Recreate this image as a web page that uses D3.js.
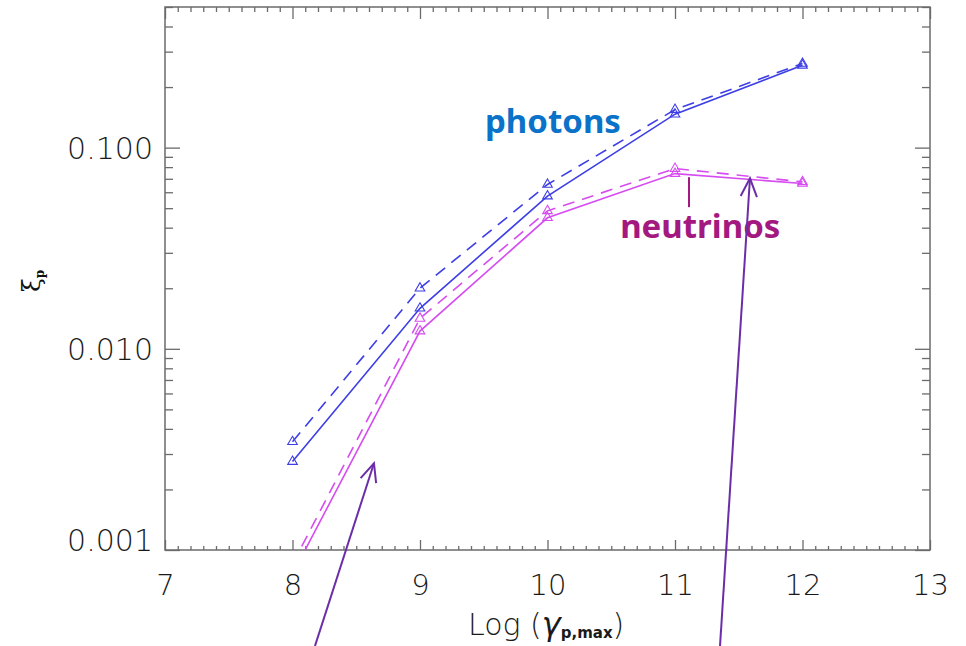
<!DOCTYPE html>
<html>
<head>
<meta charset="utf-8">
<script src="https://cdn.jsdelivr.net/npm/d3@7"></script>
<style>
  html, body { margin: 0; padding: 0; background: #fff; }
  svg { display: block; }
  .tick text { font-family: "DejaVu Sans", sans-serif; font-weight: 300; fill: #1a1a1a; }
</style>
</head>
<body>
<svg id="chart" width="966" height="646"></svg>
<script>
// Maximum proton Lorentz factor (log10) at which the runs were made
const logGamma = [8, 9, 10, 11, 12];

// Efficiency ξp for the two secondary channels (solid and dashed runs)
const photonsSolid    = [0.00275, 0.0159, 0.0574, 0.1466, 0.2564];
const photonsDashed   = [0.00345, 0.0200, 0.0656, 0.1545, 0.2618];
const neutrinosSolid  = [0.00076, 0.01225, 0.0448, 0.0743, 0.0663];
const neutrinosDashed = [0.00085, 0.01416, 0.0485, 0.0787, 0.0676];

// Axis ticks
const xMajorTicks = [7, 8, 9, 10, 11, 12, 13];
const yMajorTicks = [0.001, 0.01, 0.1];
const yTickLabels = ["0.001", "0.010", "0.100"];

const W = 966, H = 646;
const plot = { left: 165, right: 930, top: 7, bottom: 550 };

const svg = d3.select("#chart");

const x = d3.scaleLinear().domain([7, 13]).range([plot.left, plot.right]);
const y = d3.scaleLog().domain([0.001, 0.5]).range([plot.bottom, plot.top]);

// minor tick positions
const xMinor = d3.range(70, 131).map(v => v / 10).filter(v => !xMajorTicks.includes(v));
const yMinor = [];
[0.001, 0.01, 0.1].forEach(d => { for (let k = 2; k <= 9; k++) { const v = d * k; if (v <= 0.5 + 1e-9) yMinor.push(v); } });

const axisColor = "#6b6b6b";

function styleAxis(g) {
  g.select(".domain").remove();
  g.selectAll(".tick line").attr("stroke", axisColor).attr("stroke-width", 1.3);
}

// bottom axis: major with labels, minor without
svg.append("g").attr("transform", `translate(0,${plot.bottom})`)
  .call(d3.axisBottom(x).tickValues(xMajorTicks).tickSize(-10).tickFormat(d3.format("d")))
  .call(styleAxis)
  .call(g => g.selectAll(".tick text").attr("y", 45).attr("dy", 0).attr("font-size", 29));
svg.append("g").attr("transform", `translate(0,${plot.bottom})`)
  .call(d3.axisBottom(x).tickValues(xMinor).tickSize(-4).tickFormat(""))
  .call(styleAxis);

// top axis: ticks only
svg.append("g").attr("transform", `translate(0,${plot.top})`)
  .call(d3.axisTop(x).tickValues(xMajorTicks).tickSize(-12).tickFormat(""))
  .call(styleAxis);
svg.append("g").attr("transform", `translate(0,${plot.top})`)
  .call(d3.axisTop(x).tickValues(xMinor).tickSize(-5).tickFormat(""))
  .call(styleAxis);

// left axis
svg.append("g").attr("transform", `translate(${plot.left},0)`)
  .call(d3.axisLeft(y).tickValues(yMajorTicks).tickSize(-15)
    .tickFormat((d, i) => yTickLabels[i]))
  .call(styleAxis)
  .call(g => g.selectAll(".tick text")
    .attr("x", -12).attr("font-size", 30)
    .attr("dy", d => d === 0.001 ? "0em" : "0.36em"));
svg.append("g").attr("transform", `translate(${plot.left},0)`)
  .call(d3.axisLeft(y).tickValues(yMinor).tickSize(-8).tickFormat(""))
  .call(styleAxis);

// right axis: ticks only
svg.append("g").attr("transform", `translate(${plot.right},0)`)
  .call(d3.axisRight(y).tickValues(yMajorTicks).tickSize(-15).tickFormat(""))
  .call(styleAxis);
svg.append("g").attr("transform", `translate(${plot.right},0)`)
  .call(d3.axisRight(y).tickValues(yMinor).tickSize(-8).tickFormat(""))
  .call(styleAxis);

// frame
svg.append("rect")
  .attr("x", plot.left).attr("y", plot.top)
  .attr("width", plot.right - plot.left).attr("height", plot.bottom - plot.top)
  .attr("fill", "none").attr("stroke", axisColor).attr("stroke-width", 1.5);

// axis titles
const xTitle = svg.append("text")
  .attr("x", 468).attr("y", 635)
  .attr("font-family", "DejaVu Sans, sans-serif").attr("font-weight", 300)
  .attr("font-size", 30).attr("fill", "#1a1a1a");
xTitle.append("tspan").text("Log (");
xTitle.append("tspan").attr("font-style", "italic").attr("font-size", 32).text("γ");
xTitle.append("tspan").attr("font-size", 15).attr("font-weight", "bold").attr("dy", 3).text("p,max");
xTitle.append("tspan").attr("dy", -3).text(")");

const yTitle = svg.append("text")
  .attr("transform", "translate(40,292) rotate(-90)")
  .attr("font-family", "DejaVu Serif, serif")
  .attr("font-size", 25).attr("fill", "#111");
yTitle.append("tspan").text("ξ");
yTitle.append("tspan").attr("font-size", 12).attr("font-weight", "bold").attr("dy", 4).text("p");

// data series
const clipId = "plot-clip";
svg.append("defs").append("clipPath").attr("id", clipId)
  .append("rect")
  .attr("x", plot.left).attr("y", plot.top)
  .attr("width", plot.right - plot.left).attr("height", plot.bottom - plot.top);

const blue = "#3d3ee6";
const magenta = "#d64cf0";

const series = [
  { values: photonsDashed,   color: blue,    dash: "12,8" },
  { values: photonsSolid,    color: blue,    dash: null },
  { values: neutrinosDashed, color: magenta, dash: "12,8" },
  { values: neutrinosSolid,  color: magenta, dash: null }
];

const line = d3.line().x((d, i) => x(logGamma[i])).y(d => y(d));
const dataLayer = svg.append("g").attr("clip-path", `url(#${clipId})`);
const tri = d3.symbol().type(d3.symbolTriangle).size(40);

series.forEach(s => {
  dataLayer.append("path")
    .datum(s.values)
    .attr("d", line)
    .attr("fill", "none")
    .attr("stroke", s.color)
    .attr("stroke-width", 1.6)
    .attr("stroke-dasharray", s.dash);
  dataLayer.selectAll(null)
    .data(s.values)
    .enter().append("path")
    .attr("d", tri)
    .attr("transform", (d, i) => `translate(${x(logGamma[i])},${y(d)})`)
    .attr("fill", "none")
    .attr("stroke", s.color)
    .attr("stroke-width", 1.1);
});

// annotations
svg.append("text")
  .attr("x", x(9.51)).attr("y", y(0.118))
  .attr("font-family", "Noto Sans, sans-serif").attr("font-weight", "bold")
  .attr("font-size", 33).attr("fill", "#0b72c9")
  .text("photons");

svg.append("text")
  .attr("x", x(10.57)).attr("y", y(0.0355))
  .attr("font-family", "Noto Sans, sans-serif").attr("font-weight", "bold")
  .attr("font-size", 33).attr("fill", "#a3197f")
  .text("neutrinos");

svg.append("line")
  .attr("x1", x(11.11)).attr("x2", x(11.11))
  .attr("y1", y(0.0713)).attr("y2", y(0.0506))
  .attr("stroke", "#a3197f").attr("stroke-width", 2);

// arrows pointing to the curves
const arrowColor = "#6b2ea8";
const arrows = [
  { from: [8.176, 0.000333], to: [8.639, 0.00270] },
  { from: [11.353, 0.000333], to: [11.588, 0.0704] }
];
arrows.forEach(a => {
  const x1 = x(a.from[0]), y1 = y(a.from[1]);
  const x2 = x(a.to[0]), y2 = y(a.to[1]);
  const ang = Math.atan2(y2 - y1, x2 - x1);
  const len = 20, spread = 0.42;
  svg.append("line")
    .attr("x1", x1).attr("y1", y1).attr("x2", x2).attr("y2", y2)
    .attr("stroke", arrowColor).attr("stroke-width", 2);
  const p1 = [x2 - len * Math.cos(ang - spread), y2 - len * Math.sin(ang - spread)];
  const p2 = [x2 - len * Math.cos(ang + spread), y2 - len * Math.sin(ang + spread)];
  svg.append("path")
    .attr("d", `M${p1[0]},${p1[1]}L${x2},${y2}L${p2[0]},${p2[1]}`)
    .attr("fill", "none").attr("stroke", arrowColor).attr("stroke-width", 2);
});
</script>
</body>
</html>
